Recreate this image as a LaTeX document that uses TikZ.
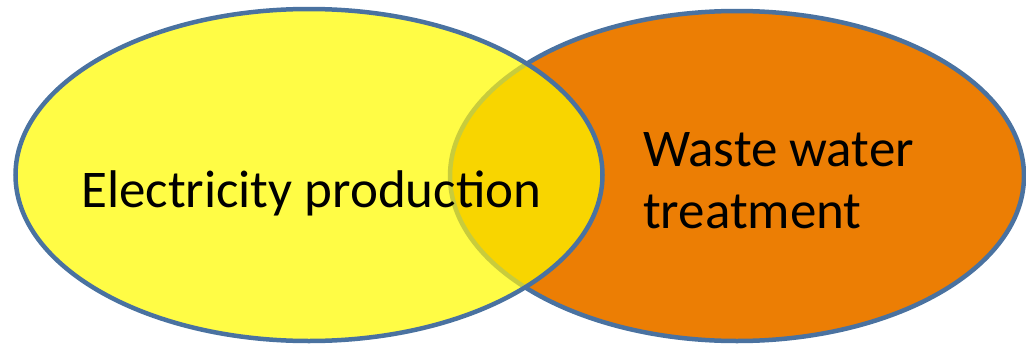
\documentclass[tikz,border=0pt]{standalone}
\usepackage{fontspec}
\setmainfont{Carlito}
\definecolor{yel}{HTML}{FFFC45}
\definecolor{org}{HTML}{EC7E04}
\definecolor{ovl}{HTML}{F8D500}
\definecolor{bord}{HTML}{4A72A0}
\definecolor{faint}{HTML}{C8CC3C}
\tikzset{
  lbl/.style={font=\fontsize{53}{62}\selectfont, text=black, inner sep=0pt, anchor=base west},
  rim/.style={line width=4.5pt}
}
\begin{document}
\begin{tikzpicture}[x=1pt,y=-1pt]
\useasboundingbox (0,0) rectangle (1026,343);
\def\ya{(309,175) ellipse [x radius=293.5, y radius=166]}
\def\ob{(737,176) ellipse [x radius=287, y radius=165]}
% orange set
\fill[org] \ob;
\draw[rim, bord] \ob;
% yellow set
\fill[yel] \ya;
\begin{scope}
  \clip \ya;
  \fill[ovl] \ob;
  \draw[rim, faint] \ob;
\end{scope}
\draw[rim, bord] \ya;
\node[lbl] (elec) at (81,207) {Electricity production};
\node[lbl] (waste) at (643,166) {Waste water};
\node[lbl] (treat) at (643,228) {treatment};
\end{tikzpicture}
\end{document}
